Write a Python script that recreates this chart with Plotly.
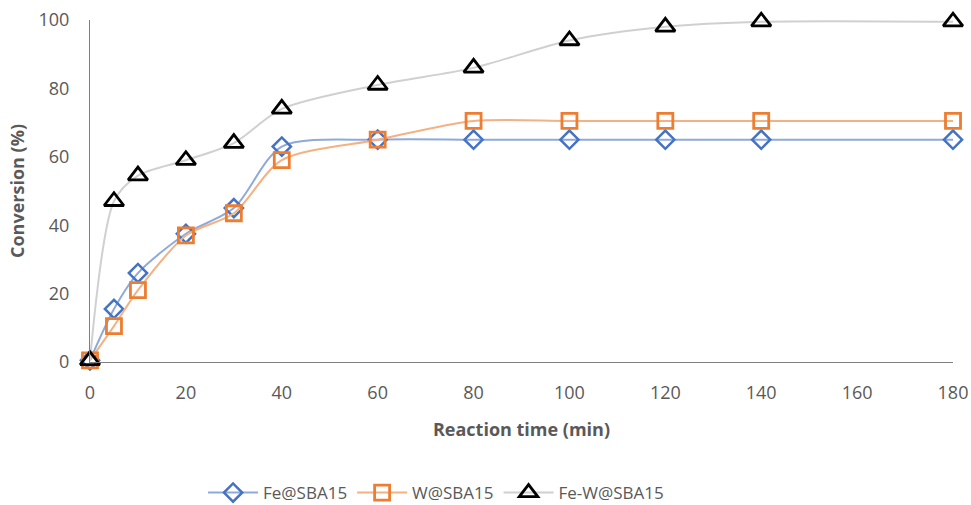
import plotly.graph_objects as go

time_fe = [0, 5, 10, 20, 30, 40, 60, 80, 100, 120, 140, 180]
fe_sba15 = [0.5, 15.5, 26, 37.5, 45, 63, 65, 65, 65, 65, 65, 65]
w_sba15 = [0.5, 10.5, 21, 37, 43.5, 59, 65, 70.5, 70.5, 70.5, 70.5, 70.5]
few_sba15 = [0.5, 47, 54.5, 59, 64, 74, 81, 86, 94, 98, 99.5, 99.5]

x_ticks = list(range(0, 181, 20))
y_ticks = list(range(0, 101, 20))

fig = go.Figure()
fig.add_trace(go.Scatter(
    x=time_fe, y=fe_sba15, name="Fe@SBA15", mode="lines+markers",
    line=dict(color="#8EA9DB", width=2, shape="spline", smoothing=0.8),
    marker=dict(symbol="diamond-open", size=14, color="#4472C4", line=dict(width=2.5, color="#4472C4")),
    cliponaxis=False))
fig.add_trace(go.Scatter(
    x=time_fe, y=w_sba15, name="W@SBA15", mode="lines+markers",
    line=dict(color="#F4B183", width=2, shape="spline", smoothing=0.8),
    marker=dict(symbol="square-open", size=15, color="#ED7D31", line=dict(width=2.8, color="#ED7D31")),
    cliponaxis=False))
fig.add_trace(go.Scatter(
    x=time_fe, y=few_sba15, name="Fe-W@SBA15", mode="lines+markers",
    line=dict(color="#D0D0D0", width=2, shape="spline", smoothing=0.8),
    marker=dict(symbol="triangle-up-open", size=17, color="#000000", line=dict(width=2.8, color="#000000")),
    cliponaxis=False))

font_fam = "Open Sans, Liberation Sans, sans-serif"
fig.update_layout(
    width=971, height=505,
    margin=dict(l=90, r=18, t=20, b=143, autoexpand=False),
    paper_bgcolor="white", plot_bgcolor="white",
    font=dict(family=font_fam, color="#595959", size=16),
    xaxis=dict(range=[0, 180], tickvals=x_ticks, showgrid=False, zeroline=False,
               showline=True, linecolor="#7F7F7F", linewidth=1, automargin=False,
               tickfont=dict(size=18, color="#595959"), ticks="", ticklabelstandoff=14,
               title=dict(text="<b>Reaction time (min)</b>", font=dict(size=18, color="#595959"), standoff=20)),
    yaxis=dict(range=[0, 100], tickvals=y_ticks, showgrid=False, zeroline=False,
               showline=True, linecolor="#7F7F7F", linewidth=1, automargin=False,
               tickfont=dict(size=18, color="#595959"), ticks="", ticklabelstandoff=16,
               title=dict(text="<b>Conversion (%)</b>", font=dict(size=18, color="#595959"), standoff=9)),
    legend=dict(orientation="h", x=0.131, xanchor="left", y=-0.383, yanchor="middle",
                font=dict(size=17, color="#595959"), itemwidth=50),
    showlegend=True,
)

fig.write_html("out.html")
